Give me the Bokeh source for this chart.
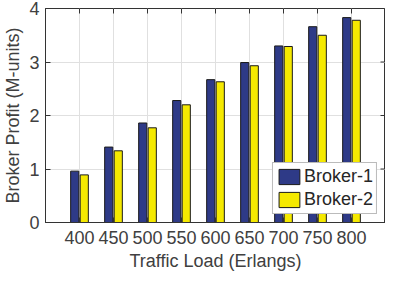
import math
from bokeh.plotting import figure
from bokeh.models import ColumnDataSource, Range1d, FixedTicker, Legend, LegendItem
from bokeh.transform import dodge
from bokeh.embed import file_html
from bokeh.resources import INLINE

# ---- data ----
loads = [400, 450, 500, 550, 600, 650, 700, 750, 800]
broker1 = [0.96, 1.41, 1.86, 2.28, 2.67, 2.99, 3.30, 3.66, 3.83]
broker2 = [0.89, 1.34, 1.77, 2.20, 2.63, 2.93, 3.29, 3.50, 3.78]
x_ticks = [400, 450, 500, 550, 600, 650, 700, 750, 800]
y_ticks = [0, 1, 2, 3, 4]
x_lim = (350, 850)
y_lim = (0, 4)
series_names = ["Broker-1", "Broker-2"]

FONT = "Liberation Sans"
TXT = "#404040"
AX = "#333333"

src = ColumnDataSource(dict(load=loads, b1=broker1, b2=broker2))

p = figure(width=385, height=273, x_range=Range1d(*x_lim), y_range=Range1d(*y_lim),
           output_backend="svg", toolbar_location=None,
           min_border_left=0, min_border_right=0, min_border_top=8, min_border_bottom=0)
p.background_fill_color = "white"
p.border_fill_color = "white"
p.outline_line_color = AX
p.outline_line_width = 1

r1 = p.vbar(x=dodge('load', -7, range=p.x_range), top='b1', width=12, source=src,
            fill_color="#2E3A87", line_color="#1a1a1a", line_width=1)
r2 = p.vbar(x=dodge('load', 7, range=p.x_range), top='b2', width=12, source=src,
            fill_color="#F5E900", line_color="#1a1a1a", line_width=1)

# inward ticks on the top and right edges of the box
p.ray(x=x_ticks, y=[y_lim[1]] * len(x_ticks), length=5, length_units="screen",
      angle=-math.pi / 2, line_color=AX, line_width=1)
p.ray(x=[x_lim[1]] * len(y_ticks), y=y_ticks, length=5, length_units="screen",
      angle=math.pi, line_color=AX, line_width=1)

xt = FixedTicker(ticks=x_ticks)
yt = FixedTicker(ticks=y_ticks)

for ax in (p.xaxis[0], p.yaxis[0]):
    ax.major_tick_in = 5
    ax.major_tick_out = 0
    ax.minor_tick_in = 0
    ax.minor_tick_out = 0
    ax.axis_line_color = AX
    ax.major_tick_line_color = AX
    ax.major_label_text_font = FONT
    ax.major_label_text_font_size = "18px"
    ax.major_label_text_color = TXT
    ax.axis_label_text_font = FONT
    ax.axis_label_text_font_size = "18px"
    ax.axis_label_text_font_style = "normal"
    ax.axis_label_text_color = TXT

p.xaxis[0].ticker = xt
p.yaxis[0].ticker = yt
p.xaxis[0].axis_label = "Traffic Load (Erlangs)"
p.yaxis[0].axis_label = "Broker Profit (M-units)"
p.xaxis[0].major_label_standoff = 8
p.xaxis[0].axis_label_standoff = 4
p.yaxis[0].major_label_standoff = 6
p.yaxis[0].axis_label_standoff = 3

p.xgrid[0].ticker = xt
p.ygrid[0].ticker = yt
p.xgrid.grid_line_color = "#e0e0e0"
p.ygrid.grid_line_color = "#e0e0e0"
p.xgrid.grid_line_width = 1
p.ygrid.grid_line_width = 1

legend = Legend(items=[LegendItem(label=series_names[0], renderers=[r1]),
                       LegendItem(label=series_names[1], renderers=[r2])],
                location="bottom_right")
legend.label_text_font = FONT
legend.label_text_font_size = "18px"
legend.label_text_color = "#262626"
legend.glyph_width = 26
legend.glyph_height = 19
legend.label_standoff = 2
legend.spacing = 2
legend.padding = 3
legend.margin = 8
legend.border_line_color = "#777777"
legend.border_line_width = 1
legend.background_fill_alpha = 1
legend.label_height = 19
p.add_layout(legend, "center")

open("out.html", "w").write(file_html(p, INLINE))
